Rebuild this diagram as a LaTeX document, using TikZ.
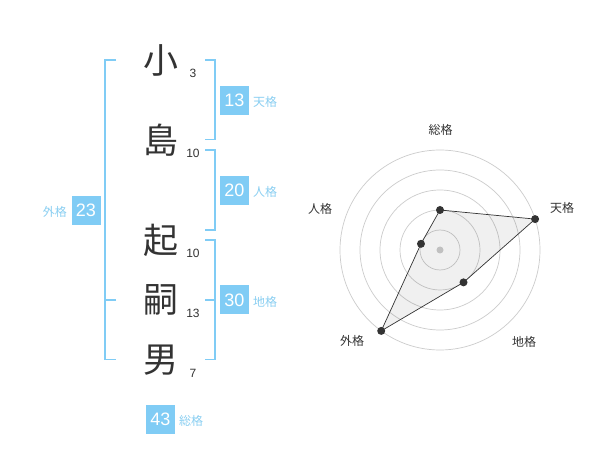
\documentclass[tikz,border=0pt]{standalone}
\usepackage{fontspec}
\setmainfont{Liberation Sans}
\newfontfamily\cjk{Noto Sans CJK JP}
\definecolor{skyb}{HTML}{80CCF5}
\definecolor{skyt}{HTML}{8ACFF2}
\definecolor{ink}{HTML}{333333}
\definecolor{ringc}{HTML}{CCCCCC}
\begin{document}
\begin{tikzpicture}[x=1pt,y=-1pt,
  kanji/.style={font=\cjk\fontsize{35}{35}\selectfont, text=ink, inner sep=0pt},
  stroke/.style={font=\fontsize{12}{12}\selectfont, text=ink, inner sep=0pt},
  valbox/.style={fill=skyb, text=white, minimum width=29pt, minimum height=29pt, inner sep=0pt, font=\fontsize{18}{18}\selectfont},
  kaku/.style={font=\cjk\fontsize{12}{12}\selectfont, text=skyt, inner sep=0pt},
  brk/.style={draw=skyb, line width=1.8pt},
  rlabel/.style={font=\cjk\fontsize{12}{12}\selectfont, text=ink, inner sep=0pt},
  ring/.style={draw=ringc, line width=0.7pt},
  dot/.style={circle, fill=ink, inner sep=0pt, minimum size=8pt}]
\path[use as bounding box, fill=white] (0,0) rectangle (600,470);

% name characters
\node[kanji] (k1) at (160.5,60) {小};
\node[kanji] (k2) at (160.5,140) {島};
\node[kanji] (k3) at (160.5,240) {起};
\node[kanji] (k4) at (160.5,300) {嗣};
\node[kanji] (k5) at (160.5,360) {男};
\node[stroke] (s1) at (193,73) {3};
\node[stroke] (s2) at (193,153) {10};
\node[stroke] (s3) at (193,253) {10};
\node[stroke] (s4) at (193,313) {13};
\node[stroke] (s5) at (193,373) {7};

% brackets
\coordinate (r1a) at (205,60);  \coordinate (r1b) at (205,139.5);
\coordinate (r2a) at (205,150); \coordinate (r2b) at (205,230);
\coordinate (r3a) at (205,240); \coordinate (r3b) at (205,359.5);
\coordinate (r3m) at (205,300);
\draw[brk] (r1a) -- ++(10,0) |- (r1b);
\draw[brk] (r2a) -- ++(10,0) |- (r2b);
\draw[brk] (r3a) -- ++(10,0) |- (r3b);
\draw[brk] (r3m) -- ++(10,0);
\coordinate (l1a) at (116,60); \coordinate (l1b) at (116,359.5);
\coordinate (l1m) at (116,300);
\draw[brk] (l1a) -- ++(-11,0) |- (l1b);
\draw[brk] (l1m) -- ++(-11,0);

% values
\node[valbox] (v13) at (234.5,100.5) {13};
\node[kaku, anchor=west] (t13) at (253,102) {天格};
\node[valbox] (v20) at (234.5,190.5) {20};
\node[kaku, anchor=west] (t20) at (253,192) {人格};
\node[valbox] (v30) at (234.5,300) {30};
\node[kaku, anchor=west] (t30) at (253,302) {地格};
\node[valbox] (v23) at (86,210.5) {23};
\node[kaku, anchor=east] (t23) at (67,212) {外格};
\node[valbox] (v43) at (160.5,419) {43};
\node[kaku, anchor=west] (t43) at (179,421) {総格};

% radar chart
\begin{scope}[shift={(440,250)}, y=1pt]
  \foreach \r in {20,40,60,80,100} \draw[ring] (0,0) circle[radius=\r pt];
  \fill[ringc] (0,0) circle[radius=3.5pt];
  \coordinate (pS) at (90:40);
  \coordinate (pT) at (18:100);
  \coordinate (pC) at (-54:40);
  \coordinate (pG) at (-126:100);
  \coordinate (pJ) at (162:20);
  \filldraw[fill=black, fill opacity=0.06, draw=ink, line width=0.7pt] (pS) -- (pT) -- (pC) -- (pG) -- (pJ) -- cycle;
  \foreach \p in {pS,pT,pC,pG,pJ} \node[dot] at (\p) {};
\end{scope}
\node[rlabel] (lS) at (440.5,130) {総格};
\node[rlabel] (lT) at (562,208) {天格};
\node[rlabel] (lJ) at (320,209) {人格};
\node[rlabel] (lC) at (524,342) {地格};
\node[rlabel] (lG) at (352,341) {外格};
\end{tikzpicture}
\end{document}
